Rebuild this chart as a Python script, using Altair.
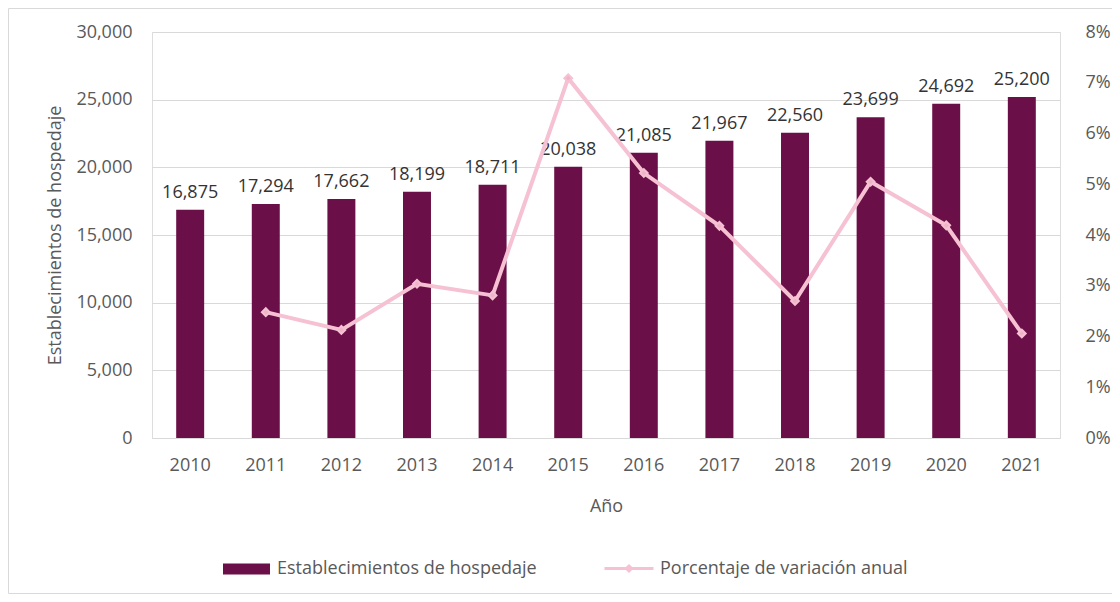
import altair as alt
import pandas as pd

years = ["2010", "2011", "2012", "2013", "2014", "2015", "2016", "2017", "2018", "2019", "2020", "2021"]
establecimientos = [16875, 17294, 17662, 18199, 18711, 20038, 21085, 21967, 22560, 23699, 24692, 25200]
variacion_pct = [None, 2.48, 2.13, 3.04, 2.81, 7.09, 5.22, 4.18, 2.70, 5.05, 4.19, 2.06]

BAR_NAME = "Establecimientos de hospedaje"
LINE_NAME = "Porcentaje de variación anual"
FONT = "Open Sans"
GREY = "#595959"
MAROON = "#6a0f47"
PINK = "#f5c1d3"
FS = 18

df = pd.DataFrame({
    "year": years,
    "value": establecimientos,
    "pct": [None if v is None else v / 100 for v in variacion_pct],
    "bar_series": BAR_NAME,
    "line_series": LINE_NAME,
})

x = alt.X("year:O", title="Año", sort=years,
          scale=alt.Scale(paddingInner=0.63, paddingOuter=0.32),
          axis=alt.Axis(labelAngle=0, labelPadding=18, titlePadding=23, ticks=False,
                        domainColor="#d9d9d9", labelFontSize=FS, titleFontSize=FS,
                        labelColor=GREY, titleColor=GREY, titleFontWeight="normal"))

yl = alt.Scale(domain=[0, 30000])

bars = alt.Chart(df).mark_bar(color=MAROON).encode(
    x=x,
    y=alt.Y("value:Q", scale=yl, title="Establecimientos de hospedaje",
            axis=alt.Axis(values=[0, 5000, 10000, 15000, 20000, 25000, 30000], format=",.0f",
                          ticks=False, domain=False, gridColor="#d9d9d9", labelPadding=20,
                          titlePadding=11, labelFontSize=FS, titleFontSize=FS,
                          labelColor=GREY, titleColor=GREY, titleFontWeight="normal")),
    color=alt.Color("bar_series:N", scale=alt.Scale(range=[MAROON]), title=None,
                    legend=alt.Legend(orient="none", legendX=71, legendY=513.5, labelLimit=0,
                                      symbolType="M-1,-0.234H1V0.234H-1Z", symbolSize=2209,
                                      symbolStrokeWidth=0, labelFontSize=FS, labelColor=GREY,
                                      labelFont=FONT, symbolOpacity=1, labelOffset=7)),
)

labels = alt.Chart(df).mark_text(dy=-17, fontSize=FS, color="#333333", font=FONT).encode(
    x=x,
    y=alt.Y("value:Q", scale=yl, axis=None),
    text=alt.Text("value:Q", format=",.0f"),
)

line = alt.Chart(df).transform_filter("isValid(datum.pct)").mark_line(
    strokeWidth=4,
    point=alt.OverlayMarkDef(shape="diamond", filled=True, size=60, color="#f0b4c8"),
).encode(
    x=x,
    y=alt.Y("pct:Q", scale=alt.Scale(domain=[0, 0.08]), title=None,
            axis=alt.Axis(orient="right", format=".0%", values=[0, 0.01, 0.02, 0.03, 0.04, 0.05, 0.06, 0.07, 0.08],
                          ticks=False, domain=False, grid=False, labelPadding=25,
                          labelFontSize=FS, labelColor=GREY)),
    stroke=alt.Stroke("line_series:N", scale=alt.Scale(range=[PINK]), title=None,
                      legend=alt.Legend(orient="none", legendX=451, legendY=510.5, labelLimit=0,
                                        symbolType="M-1,0H1M0,-0.1L0.1,0L0,0.1L-0.1,0Z",
                                        symbolSize=2401, symbolStrokeWidth=3, labelOffset=5,
                                        labelFontSize=FS, labelColor=GREY, labelFont=FONT)),
)

frame = alt.Chart(pd.DataFrame({"a": [0]})).mark_rect(
    fillOpacity=0, fill="#ffffff", stroke="#d9d9d9", strokeWidth=1
).encode(x=alt.value(-143.5), x2=alt.value(960.5), y=alt.value(-23.5), y2=alt.value(561.5))

chart = alt.layer(frame, bars, labels, line).resolve_scale(
    y="independent", color="independent", stroke="independent"
).properties(
    width=908, height=406,
    autosize=alt.AutoSizeParams(type="none"),
    padding={"left": 144, "top": 24, "right": 52, "bottom": 156},
).configure_view(stroke=None).configure(font=FONT)

chart.save("out.html", embed_options={"renderer": "svg", "actions": False})
